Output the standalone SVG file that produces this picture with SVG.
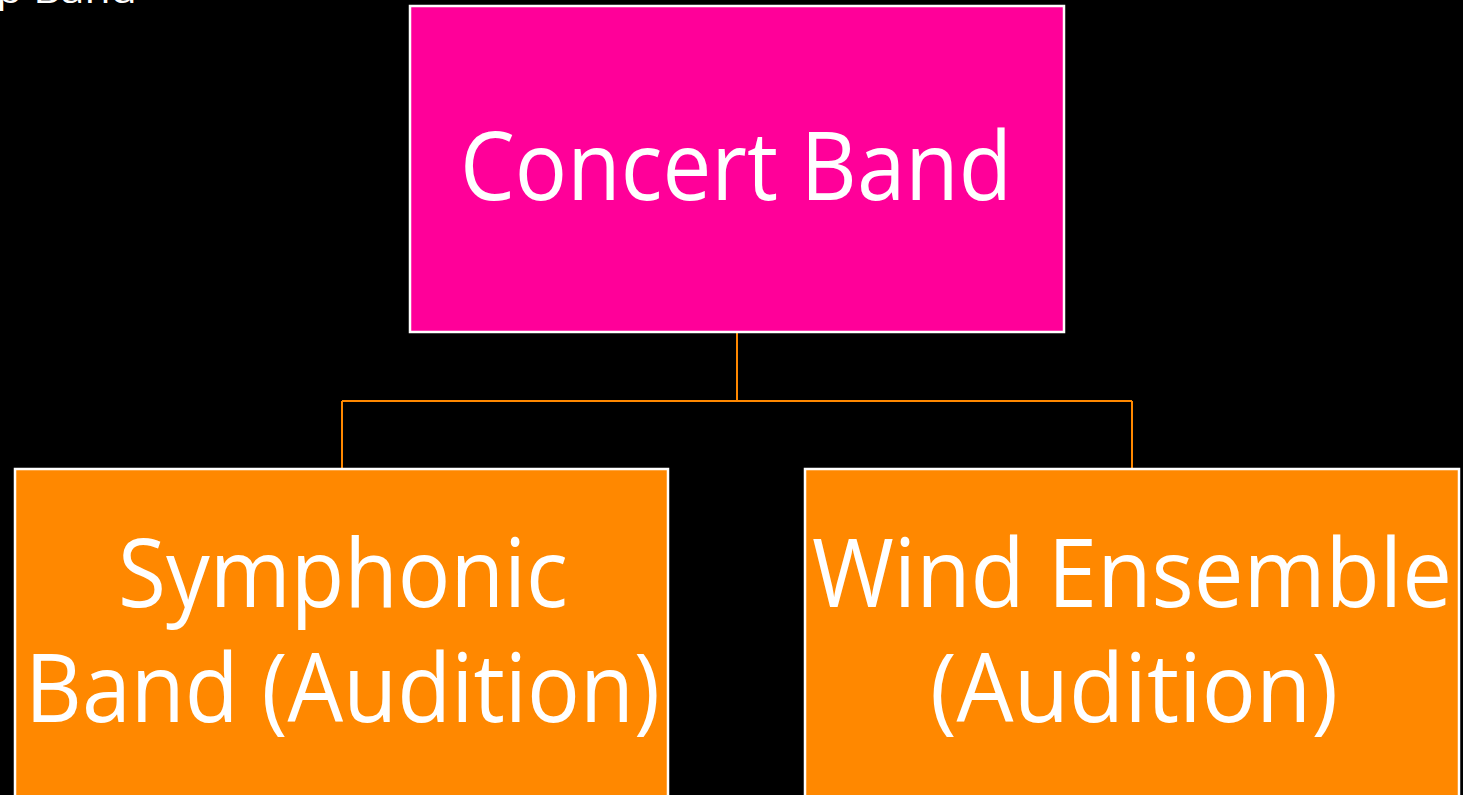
<svg xmlns="http://www.w3.org/2000/svg" width="1463" height="795" viewBox="0 0 1463 795">
<style>
.t{font-family:"Open Sans","Noto Sans","Liberation Sans",sans-serif;fill:#fff;}
.big{font-size:96px;}
.conn{stroke:#FF8800;stroke-width:2;fill:none;}
.box{stroke:#fff;stroke-width:2.5;}
</style>
<rect width="1463" height="795" fill="#000"/>
<text class="t" x="-4" y="3" font-size="34" textLength="141" lengthAdjust="spacingAndGlyphs">p Band</text>
<g id="connectors">
<path class="conn" d="M737 332V401M342 401H1132M342 401V469M1132 401V469"/>
</g>
<g id="concert">
<rect class="box" x="410" y="6" width="654" height="326" fill="#FF0099"/>
<text class="t big" x="460" y="200" textLength="552" lengthAdjust="spacingAndGlyphs">Concert Band</text>
</g>
<g id="symphonic">
<rect class="box" x="15" y="469" width="653" height="340" fill="#FF8800"/>
<text class="t big" x="118" y="607" textLength="450" lengthAdjust="spacingAndGlyphs">Symphonic</text>
<text class="t big" x="25" y="722" textLength="635" lengthAdjust="spacingAndGlyphs">Band (Audition)</text>
</g>
<g id="wind">
<rect class="box" x="805" y="469" width="654" height="340" fill="#FF8800"/>
<text class="t big" x="812" y="607" textLength="640" lengthAdjust="spacingAndGlyphs">Wind Ensemble</text>
<text class="t big" x="930" y="722" textLength="408" lengthAdjust="spacingAndGlyphs">(Audition)</text>
</g>
</svg>
